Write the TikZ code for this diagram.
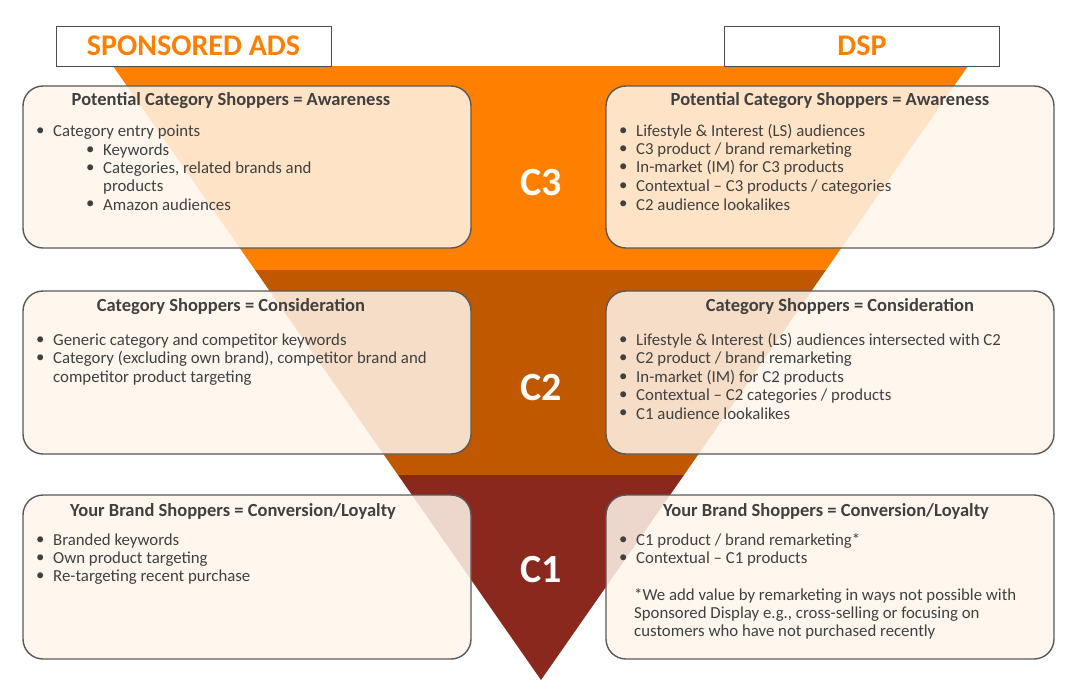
\documentclass[tikz,border=0pt]{standalone}
\usepackage{fontspec}
\setmainfont{Carlito}
\newcommand{\bl}[3]{\node[txt] at (#1,#2) {•};\node[txt] at (#1+17,#2) {#3};}
\begin{document}
\begin{tikzpicture}[x=1pt,y=-1pt,
  box/.style={draw=black!65,line width=1.4pt,rounded corners=20pt,fill=orange!8,fill opacity=0.85},
  ttl/.style={font=\fontsize{18.5}{22}\selectfont\bfseries,text=black!75},
  txt/.style={anchor=west,font=\fontsize{16.8}{20}\selectfont,text=black!75,inner sep=0pt},
  cl/.style={font=\fontsize{40}{44}\selectfont\bfseries,text=white},
  hdr/.style={draw=black!70,line width=0.6pt,fill=white,minimum width=275pt,minimum height=40pt,font=\fontsize{30}{34}\selectfont\bfseries,text={rgb,255:red,255;green,127;blue,0}}]
\useasboundingbox (0,0) rectangle (1077,694);
\definecolor{o1}{RGB}{255,127,0}
\definecolor{o2}{RGB}{192,88,0}
\definecolor{o3}{RGB}{139,40,30}
\fill[o1] (113,66) -- (968,66) -- (826,270) -- (255,270) -- cycle;
\fill[o2] (255,270) -- (826,270) -- (684,475) -- (398,475) -- cycle;
\fill[o3] (398,475) -- (684,475) -- (541,680) -- cycle;
\node[hdr] (sa) at (193.5,46) {SPONSORED ADS};
\node[hdr] (dsp) at (862,46) {DSP};
\node[cl] (c3) at (541,183) {C3};
\node[cl] (c2) at (541,388) {C2};
\node[cl] (c1) at (541,570) {C1};
\draw[box] (23,86) rectangle (471,248);
\draw[box] (606,86) rectangle (1054,248);
\draw[box] (23,291) rectangle (471,454);
\draw[box] (606,291) rectangle (1054,454);
\draw[box] (23,495) rectangle (471,659);
\draw[box] (606,495) rectangle (1054,659);
% left 1
\node[ttl] at (231,101) {Potential Category Shoppers = Awareness};
\bl{36}{132}{Category entry points}
\bl{86}{151}{Keywords}
\bl{86}{169}{Categories, related brands and}
\node[txt] at (103,187) {products};
\bl{86}{205}{Amazon audiences}
% right 1
\node[ttl] at (830,101) {Potential Category Shoppers = Awareness};
\bl{619}{132}{Lifestyle \& Interest (LS) audiences}
\bl{619}{150}{C3 product / brand remarketing}
\bl{619}{168}{In-market (IM) for C3 products}
\bl{619}{187}{Contextual – C3 products / categories}
\bl{619}{205}{C2 audience lookalikes}
% left 2
\node[ttl] at (231,307) {Category Shoppers = Consideration};
\bl{36}{341}{Generic category and competitor keywords}
\bl{36}{359}{Category (excluding own brand), competitor brand and}
\node[txt] at (53,378) {competitor product targeting};
% right 2
\node[ttl] at (840,307) {Category Shoppers = Consideration};
\bl{619}{341}{Lifestyle \& Interest (LS) audiences intersected with C2}
\bl{619}{359}{C2 product / brand remarketing}
\bl{619}{378}{In-market (IM) for C2 products}
\bl{619}{396}{Contextual – C2 categories / products}
\bl{619}{414}{C1 audience lookalikes}
% left 3
\node[ttl] at (233,511) {Your Brand Shoppers = Conversion/Loyalty};
\bl{36}{541}{Branded keywords}
\bl{36}{559}{Own product targeting}
\bl{36}{577}{Re-targeting recent purchase}
% right 3
\node[ttl] at (826,511) {Your Brand Shoppers = Conversion/Loyalty};
\bl{619}{541}{C1 product / brand remarketing*}
\bl{619}{559}{Contextual – C1 products}
\node[txt] at (634,596) {*We add value by remarketing in ways not possible with};
\node[txt] at (634,614) {Sponsored Display e.g., cross-selling or focusing on};
\node[txt] at (634,632) {customers who have not purchased recently};
\end{tikzpicture}
\end{document}
